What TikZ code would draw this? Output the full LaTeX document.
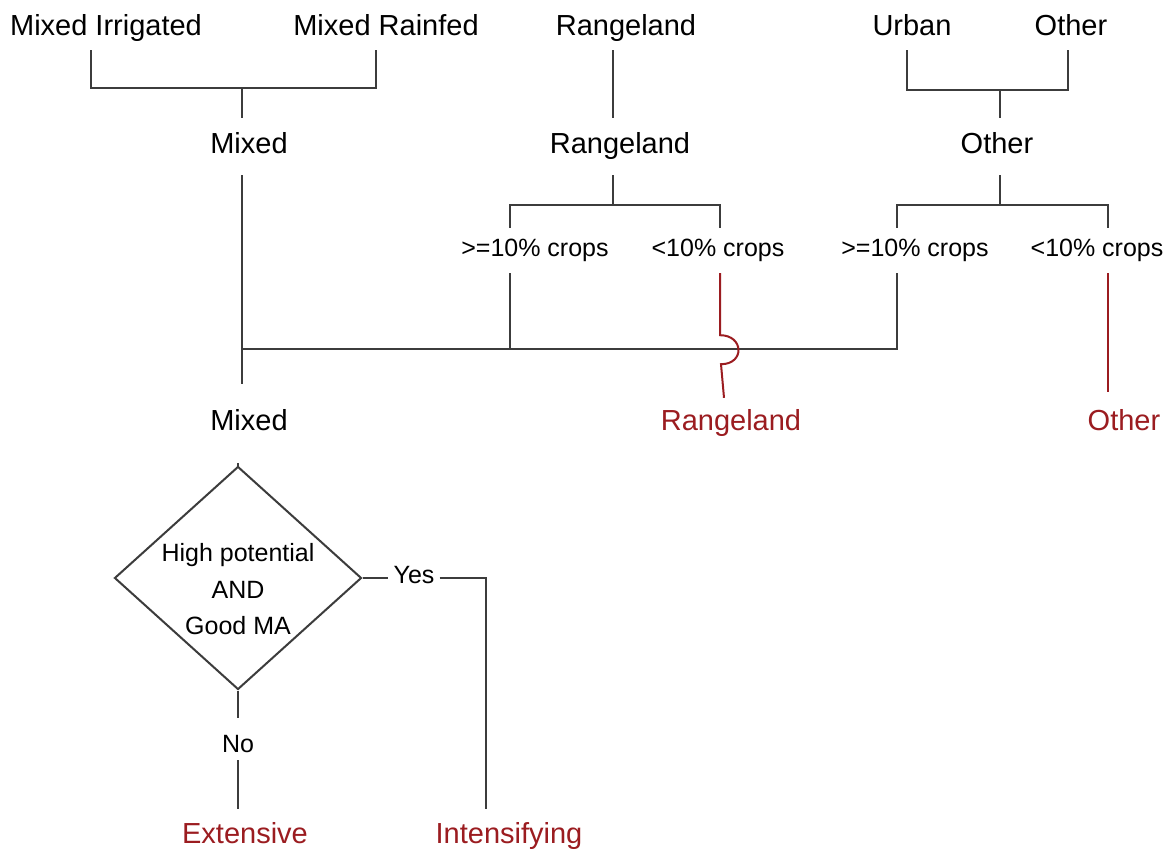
\documentclass[tikz,border=0pt]{standalone}
\usepackage{fontspec}
\setmainfont{Liberation Sans}
\usetikzlibrary{shapes.geometric}
\definecolor{linegray}{RGB}{60,60,60}
\definecolor{outred}{RGB}{155,28,32}
\newcommand{\bigtxt}{\fontsize{29}{34}\selectfont}
\newcommand{\smalltxt}{\fontsize{25}{36.5}\selectfont}

\begin{document}
\begin{tikzpicture}[x=1pt,y=-1pt,
  conn/.style={draw=linegray, line width=2pt},
  outconn/.style={draw=outred, line width=2pt},
  lbl/.style={font=\bigtxt, inner sep=0pt, text height=21pt, text depth=6pt, anchor=base, minimum height=#1},
  lbl/.default=27pt,
  outlbl/.style={lbl=#1, text=outred},
  outlbl/.default=27pt,
  sml/.style={font=\smalltxt, inner sep=0pt, text height=18pt, text depth=5pt, anchor=base, minimum height=#1},
  sml/.default=23pt,
  decision/.style={diamond, draw=linegray, line width=2pt, minimum width=247pt, minimum height=223pt, inner sep=0pt},
  dectext/.style={font=\smalltxt, align=center, inner sep=0pt}
]
\fill[white] (0,0) rectangle (1171,850);
\useasboundingbox (0,0) rectangle (1171,850);

% source classes
\node[lbl=43pt] (mi)  at (106,36)  {Mixed Irrigated};
\node[lbl=43pt] (mr)  at (386,36)  {Mixed Rainfed};
\node[lbl=43pt] (rl0) at (626,36)  {Rangeland};
\node[lbl=43pt] (ur)  at (912,36)  {Urban};
\node[lbl=43pt] (ot0) at (1071,36) {Other};

% aggregated classes
\node[lbl=57pt] (mx1) at (249,154) {Mixed};
\node[lbl=57pt] (rl1) at (620,154) {Rangeland};
\node[lbl=57pt] (ot1) at (997,154) {Other};

% crop share split
\node[sml=45pt] (c1) at (535,257)  {>=10\% crops};
\node[sml=45pt] (c2) at (718,257)  {<10\% crops};
\node[sml=45pt] (c3) at (915,257)  {>=10\% crops};
\node[sml=45pt] (c4) at (1097,257) {<10\% crops};

% resulting classes
\node[lbl=79pt]    (mx2) at (249,431)  {Mixed};
\node[outlbl=51pt] (rl2) at (731,431)  {Rangeland};
\node[outlbl=63pt] (ot2) at (1124,431) {Other};

% decision
\node[decision] (dec) at (238,578) {};
\node[dectext] (dect) at (238,589.5) {High potential\\AND\\Good MA};
\node[sml=23pt, inner xsep=5pt] (yes) at (414,583) {Yes};
\node[sml, text height=30pt, text depth=4pt, minimum height=42pt] (no) at (238,752) {No};
\node[outlbl=53pt] (ext) at (245,843) {Extensive};
\node[outlbl=53pt] (int) at (509,843) {Intensifying};

% junctions
\coordinate (jmix)  at (242,88);
\coordinate (jrl)   at (613,205);
\coordinate (jot0)  at (1000,90);
\coordinate (jot1)  at (1000,205);
\coordinate (jmain) at (242,349);
\coordinate (t1) at ([xshift=-25pt]c1.south);
\coordinate (t2) at ([xshift=2pt]c2.south);

% Mixed
\draw[conn] ([xshift=-15pt]mi.south) |- (jmix) -| ([xshift=-10pt]mr.south);
\draw[conn] (jmix) -- (jmix |- mx1.north);

% Rangeland
\draw[conn] ([xshift=-13pt]rl0.south) -- ([xshift=-7pt]rl1.north);
\draw[conn] ([xshift=-7pt]rl1.south) -- (jrl);
\draw[conn] ([xshift=-25pt]c1.north) |- (jrl) -| ([xshift=2pt]c2.north);

% Other
\draw[conn] ([xshift=-5pt]ur.south) |- (jot0) -| ([xshift=-3pt]ot0.south);
\draw[conn] (jot0) -- (jot0 |- ot1.north);
\draw[conn] (jot1 |- ot1.south) -- (jot1);
\draw[conn] ([xshift=-18pt]c3.north) |- (jot1) -| ([xshift=11pt]c4.north);

% merge into Mixed
\draw[conn] (jmain |- mx1.south) -- (jmain |- mx2.north);
\draw[conn] (jmain) -| ([xshift=-18pt]c3.south);
\draw[conn] (t1) -- (t1 |- jmain);

% outputs
\draw[outconn] (t2) -- ++(0,62) .. controls +(24,0) and +(24,0) .. ++(1,29) -- ([xshift=-7pt]rl2.north);
\draw[outconn] ([xshift=11pt]c4.south) -- ([xshift=-16pt]ot2.north);

% decision branches
\draw[conn] (dec.north |- mx2.south) -- (dec.north);
\draw[conn] (dec.east) -- (dec.east -| yes.west);
\draw[conn] (yes.east |- dec.east) -| ([xshift=-23pt]int.north);
\draw[conn] (dec.south) -- (no.north);
\draw[conn] (no.south) -- (no.south |- ext.north);
\end{tikzpicture}
\end{document}
